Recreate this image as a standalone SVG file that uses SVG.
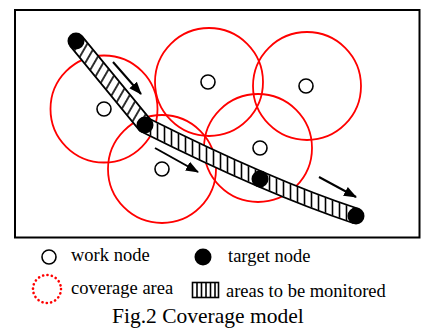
<svg xmlns="http://www.w3.org/2000/svg" width="424" height="329" viewBox="0 0 424 329">
<style>
.cov{fill:none;stroke:#ff0000;stroke-width:1.8}
.work{fill:#fff;stroke:#000;stroke-width:1.6}
.target{fill:#000}
.arrow{fill:none;stroke:#000;stroke-width:2;marker-end:url(#ah)}
.lbl{font-family:"Liberation Serif","Times New Roman",serif;font-size:18.5px;fill:#000}
.cap{font-family:"Liberation Serif","Times New Roman",serif;font-size:21.5px;fill:#000}
</style>
<defs>
<marker id="ah" markerUnits="userSpaceOnUse" markerWidth="14" markerHeight="12" refX="12" refY="5" orient="auto" viewBox="0 0 14 10">
<path d="M0,0 L13,5 L0,10 z" fill="#000"/>
</marker>
<pattern id="hv" patternUnits="userSpaceOnUse" width="7" height="10">
<line x1="3.5" y1="-1" x2="3.5" y2="11" stroke="#000" stroke-width="1.6"/>
</pattern>
<pattern id="hs" patternUnits="userSpaceOnUse" width="7.8" height="10" patternTransform="rotate(30)">
<line x1="3.9" y1="-1" x2="3.9" y2="11" stroke="#000" stroke-width="1.6"/>
</pattern>
<mask id="m1" maskUnits="userSpaceOnUse" x="0" y="0" width="424" height="329">
<path d="M76,41 L145,125" fill="none" stroke="#fff" stroke-width="14"/>
</mask>
<mask id="m2" maskUnits="userSpaceOnUse" x="0" y="0" width="424" height="329">
<path d="M145,125 Q269.5,187.5 356,216" fill="none" stroke="#fff" stroke-width="14"/>
</mask>
</defs>
<rect x="15" y="10" width="404.5" height="227.5" fill="#fff" stroke="#000" stroke-width="2"/>
<g id="coverage-areas">
<circle class="cov" cx="104" cy="109" r="53.5"/>
<circle class="cov" cx="209" cy="82" r="54"/>
<circle class="cov" cx="307" cy="86" r="54"/>
<circle class="cov" cx="258" cy="148" r="54"/>
<circle class="cov" cx="162" cy="169" r="54"/>
</g>
<g id="monitored-area">
<path d="M76,41 L145,125 Q269.5,187.5 356,216" fill="none" stroke="#000" stroke-width="17" stroke-linejoin="round"/>
<path d="M76,41 L145,125 Q269.5,187.5 356,216" fill="none" stroke="#fff" stroke-width="13.5" stroke-linejoin="round"/>
<rect x="0" y="0" width="424" height="329" fill="url(#hs)" mask="url(#m1)"/>
<rect x="0" y="0" width="424" height="329" fill="url(#hv)" mask="url(#m2)"/>
</g>
<g id="connectors">
<line class="arrow" x1="113" y1="62" x2="141" y2="94"/>
<line class="arrow" x1="155" y1="148" x2="198" y2="172"/>
<line class="arrow" x1="319" y1="177" x2="356" y2="197"/>
</g>
<g id="work-node-1"><circle class="work" cx="104" cy="109" r="7"/></g>
<g id="work-node-2"><circle class="work" cx="208" cy="82" r="7"/></g>
<g id="work-node-3"><circle class="work" cx="306" cy="86" r="7"/></g>
<g id="work-node-4"><circle class="work" cx="260" cy="148" r="7"/></g>
<g id="work-node-5"><circle class="work" cx="162" cy="169" r="7"/></g>
<g id="target-node-1"><circle class="target" cx="76" cy="41" r="8.5"/></g>
<g id="target-node-2"><circle class="target" cx="145" cy="125" r="8.5"/></g>
<g id="target-node-3"><circle class="target" cx="260" cy="179" r="8.5"/></g>
<g id="target-node-4"><circle class="target" cx="356" cy="216" r="8.5"/></g>
<g id="legend">
<circle class="work" cx="49" cy="257" r="7"/>
<text class="lbl" x="71" y="261">work node</text>
<circle class="target" cx="203" cy="257" r="8.5"/>
<text class="lbl" x="228" y="262">target node</text>
<circle cx="47" cy="289" r="14" fill="none" stroke="#ff0000" stroke-width="2.6" stroke-linecap="round" stroke-dasharray="0.1 4.3"/>
<text class="lbl" x="71" y="294">coverage area</text>
<rect x="192.5" y="282.5" width="26" height="15" fill="#fff" stroke="#000" stroke-width="1.6"/>
<g stroke="#000" stroke-width="1.6">
<line x1="197" y1="283" x2="197" y2="297"/>
<line x1="201.5" y1="283" x2="201.5" y2="297"/>
<line x1="206" y1="283" x2="206" y2="297"/>
<line x1="210.5" y1="283" x2="210.5" y2="297"/>
<line x1="215" y1="283" x2="215" y2="297"/>
</g>
<text class="lbl" x="226" y="297">areas to be monitored</text>
</g>
<text class="cap" x="112" y="323">Fig.2 Coverage model</text>
</svg>
